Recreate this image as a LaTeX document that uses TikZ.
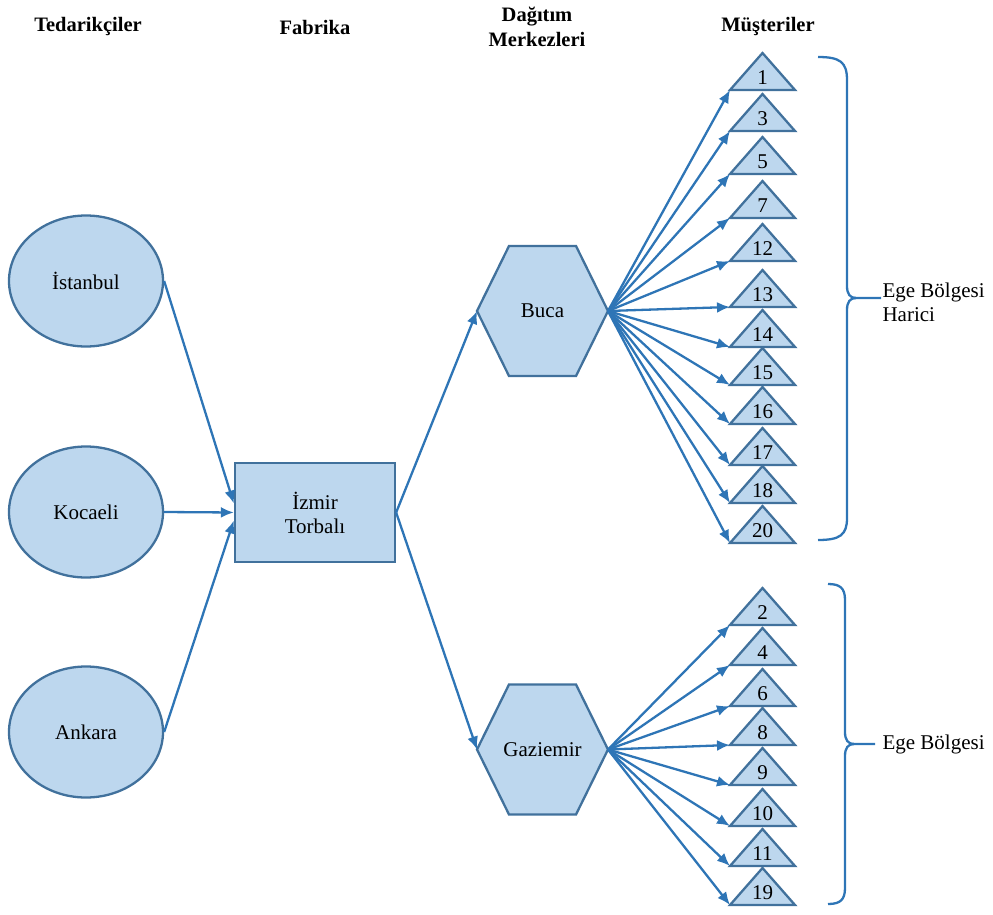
\documentclass[tikz,border=0pt]{standalone}
\usepackage{fontspec}
\setmainfont{Liberation Serif}
\usetikzlibrary{arrows.meta,shapes.geometric,backgrounds,positioning}

\definecolor{shapefill}{HTML}{BDD7EE}
\definecolor{shapeline}{HTML}{41719C}
\definecolor{arrowblue}{HTML}{2E75B6}

\newcommand{\hexa}[1]{%
  \draw[hexline] (#1.west) -- ([xshift=32pt]#1.north west) -- ([xshift=-32pt]#1.north east)
    -- (#1.east) -- ([xshift=-32pt]#1.south east) -- ([xshift=32pt]#1.south west) -- cycle;}

\begin{document}
\begin{tikzpicture}[x=1pt,y=-1pt,
  every node/.style={font=\fontsize{21}{24}\selectfont},
  head/.style={font=\fontsize{20.5}{25}\selectfont\bfseries, align=center},
  city/.style={ellipse, draw=shapeline, fill=shapefill, line width=2.3pt,
    minimum width=154pt, minimum height=131pt, inner sep=0pt},
  plant/.style={rectangle, draw=shapeline, fill=shapefill, line width=2.3pt,
    minimum width=160pt, minimum height=99pt, align=center},
  hexbox/.style={minimum width=131pt, minimum height=130pt, inner sep=0pt, outer sep=0pt},
  hexline/.style={draw=shapeline, fill=shapefill, line width=2.3pt},
  tri/.style={draw=shapeline, fill=shapefill, line width=2.3pt},
  num/.style={font=\fontsize{21}{24}\selectfont, inner sep=0pt},
  flow/.style={draw=arrowblue, line width=2.3pt, -{Latex[length=13pt,width=11pt]}},
  brace/.style={draw=arrowblue, line width=2.3pt}]
\useasboundingbox (0,0) rectangle (993,915);

\node[head] (h1) at (88,27) {Tedarikçiler};
\node[head] (h2) at (315,27) {Fabrika};
\node[head] (h3) at (537,27) {Dağıtım\\Merkezleri};
\node[head] (h4) at (768,27) {Müşteriler};

\node[city] (ist) at (86,281) {İstanbul};
\node[city] (koc) at (86,512) {Kocaeli};
\node[city] (ank) at (86,732) {Ankara};

\node[plant] (torb) at (315,512.5) {İzmir\\Torbalı};

\node[hexbox] (buca) at (542.5,311) {Buca};
\node[hexbox] (gazi) at (542.5,749.5) {Gaziemir};
\begin{scope}[on background layer]
  \hexa{buca}
  \hexa{gazi}
\end{scope}

\foreach \n/\yb in {1/90,3/131,5/174,7/218,12/261,13/307,14/347,15/385,16/424,17/465,18/503,20/543,
                    2/625,4/665,6/706,8/745,9/785,10/826,11/866,19/905} {
  \draw[tri] (730,\yb) -- (762.5,\yb-37) -- (795,\yb) -- cycle;
  \coordinate (c\n) at (730,\yb);
  \node[num] (m\n) at (762.5,\yb-12) {\n};
}

\draw[flow] (ist.east) -- ([yshift=9pt]torb.west);
\draw[flow] (koc.east) -- (torb.west);
\draw[flow] (ank.east) -- ([yshift=-8pt]torb.west);
\draw[flow] (torb.east) -- (buca.west);
\draw[flow] (torb.east) -- (gazi.west);

\foreach \n in {1,3,5,7,12,13,14,15,16,17,18,20}
  \draw[flow] (buca.east) -- (c\n);
\foreach \n in {2,4,6,8,9,10,11,19}
  \draw[flow] (gazi.east) -- (c\n);

\draw[brace] (818,57) .. controls (840,57) and (847,62) .. (847,80) -- (847,286)
  .. controls (847,294) and (850,298) .. (856,298) -- (881,298);
\draw[brace] (818,540) .. controls (840,540) and (847,535) .. (847,518) -- (847,310)
  .. controls (847,302) and (850,298) .. (856,298);
\draw[brace] (828,584) .. controls (840,584) and (845,588) .. (845,600) -- (845,732)
  .. controls (845,740) and (848,744) .. (854,744) -- (875,744);
\draw[brace] (828,904) .. controls (840,904) and (845,900) .. (845,888) -- (845,756)
  .. controls (845,748) and (848,744) .. (854,744);

\node[anchor=west, align=left] (r1) at (879,302) {Ege Bölgesi\\Harici};
\node[anchor=west] (r2) at (879,744) {Ege Bölgesi};
\end{tikzpicture}
\end{document}
